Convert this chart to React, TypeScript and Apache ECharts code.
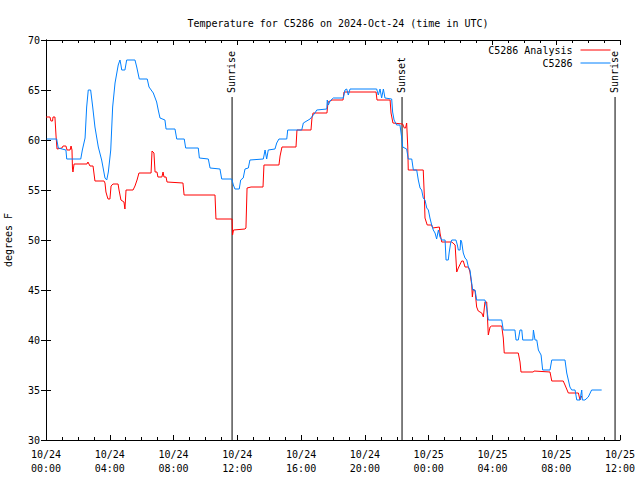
import React, { useEffect, useRef } from "react";
import * as echarts from "echarts";

// hours since 2024-10-24 00:00 UTC, degrees F
const analysisSeries: [number, number][] = [
  [0.0, 62.3], [0.25, 62.3], [0.31, 61.9], [0.41, 61.9], [0.44, 62.3], [0.56, 62.3], [0.63, 60.4], [0.69, 59.1],
  [1.0, 59.2], [1.07, 59.4], [1.25, 59.4], [1.32, 59.0], [1.51, 59.0], [1.57, 59.4], [1.63, 59.0], [1.66, 57.2],
  [1.69, 56.8], [1.76, 57.6], [2.57, 57.6], [2.63, 57.8], [2.76, 57.4], [2.95, 57.4], [3.07, 55.9], [3.64, 55.9],
  [3.7, 55.7], [3.76, 54.8], [3.83, 54.4], [3.89, 54.1], [4.01, 54.1], [4.08, 55.4], [4.2, 55.6], [4.52, 55.6],
  [4.58, 55.0], [4.7, 54.0], [4.89, 53.8], [4.95, 53.1], [5.02, 55.0], [5.46, 55.0], [5.58, 55.4], [5.71, 56.0],
  [5.83, 56.7], [6.59, 56.7], [6.65, 58.9], [6.77, 58.7], [6.84, 56.8], [6.96, 56.8], [7.02, 56.3], [7.27, 56.3],
  [7.34, 56.8], [7.4, 56.3], [7.53, 56.3], [7.59, 55.8], [8.59, 55.7], [8.66, 54.5], [10.6, 54.5], [10.66, 52.1],
  [11.67, 52.1], [11.7, 50.5], [11.76, 51.0], [12.48, 51.1], [12.54, 51.2], [12.61, 55.2], [12.86, 55.3],
  [13.61, 55.3], [13.67, 57.5], [14.61, 57.5], [14.68, 58.4], [14.8, 59.3], [15.68, 59.3], [15.74, 61.0],
  [16.62, 61.0], [16.68, 62.2], [16.75, 62.7], [17.62, 62.7], [17.69, 63.8], [17.94, 64.0], [18.63, 64.0],
  [18.69, 64.8], [20.7, 64.8], [20.76, 64.0], [21.58, 64.0], [21.64, 62.7], [21.76, 61.7], [22.37, 61.6],
  [22.47, 61.2], [22.55, 61.2], [22.62, 61.7], [22.69, 59.3], [22.72, 57.0], [23.66, 57.0], [23.73, 54.3],
  [23.77, 52.2], [23.91, 51.5], [24.19, 51.5], [24.25, 51.2], [24.67, 51.3], [24.71, 50.7], [24.82, 49.8],
  [25.45, 49.8], [25.66, 49.5], [25.76, 46.8], [25.86, 47.2], [26.07, 47.9], [26.17, 47.9], [26.28, 47.3],
  [26.49, 47.3], [26.59, 46.8], [26.7, 45.5], [26.74, 44.3], [26.8, 45.1], [26.91, 44.9], [27.01, 43.3],
  [27.11, 42.9], [27.33, 42.7], [27.43, 42.3], [27.53, 43.8], [27.64, 43.8], [27.74, 40.5], [27.85, 41.3],
  [27.95, 41.4], [28.58, 41.4], [28.68, 40.2], [28.74, 38.7], [29.62, 38.7], [29.73, 37.8], [29.79, 36.8],
  [30.56, 36.8], [30.61, 36.9], [31.61, 36.8], [31.72, 35.9], [32.44, 35.9], [32.55, 35.5], [32.76, 34.7],
  [33.39, 34.7], [33.49, 34.0], [33.6, 34.4],
];

const stationSeries: [number, number][] = [
  [0.04, 60.1], [0.67, 60.1], [0.77, 59.2], [1.25, 59.0], [1.3, 58.1], [2.18, 58.1], [2.28, 59.0], [2.45, 60.2],
  [2.55, 63.3], [2.65, 65.0], [2.8, 65.0], [2.93, 63.3], [3.07, 61.3], [3.28, 59.3], [3.49, 58.0], [3.7, 56.2],
  [3.81, 56.0], [3.91, 56.8], [4.06, 59.0], [4.18, 63.3], [4.33, 65.7], [4.53, 67.5], [4.64, 68.0], [4.7, 67.5],
  [4.75, 67.0], [4.95, 67.0], [5.06, 68.0], [5.58, 68.0], [5.69, 67.3], [5.85, 66.1], [6.35, 66.1], [6.46, 65.3],
  [6.73, 64.7], [6.94, 63.8], [7.04, 63.0], [7.15, 62.2], [7.46, 62.0], [7.53, 61.1], [8.09, 61.1], [8.2, 60.1],
  [8.67, 60.1], [8.76, 59.2], [9.55, 59.2], [9.62, 58.2], [10.18, 58.1], [10.29, 57.2], [10.91, 57.1],
  [11.02, 56.1], [11.65, 56.1], [11.75, 55.5], [11.85, 55.1], [12.12, 55.1], [12.21, 56.0], [12.37, 56.2],
  [12.48, 57.1], [12.69, 57.2], [12.79, 58.0], [13.63, 58.1], [13.74, 59.0], [13.84, 58.1], [13.94, 59.0],
  [14.36, 59.1], [14.47, 59.7], [14.61, 60.1], [15.1, 60.1], [15.16, 61.0], [16.04, 61.0], [16.14, 61.7],
  [16.56, 62.1], [16.87, 62.7], [16.98, 63.0], [17.61, 63.1], [17.64, 64.0], [17.71, 63.5], [17.81, 63.9],
  [18.02, 64.2], [18.65, 64.2], [18.75, 65.0], [18.86, 65.1], [18.96, 64.5], [19.07, 65.1], [20.74, 65.1],
  [20.84, 64.5], [20.95, 65.1], [21.05, 64.2], [21.16, 65.1], [21.26, 64.2], [21.68, 64.1], [21.74, 62.8],
  [21.83, 62.0], [21.99, 61.5], [22.2, 61.5], [22.31, 60.2], [22.37, 59.3], [22.62, 59.1], [22.72, 58.1],
  [22.94, 58.1], [23.04, 57.0], [23.25, 57.0], [23.35, 56.0], [23.46, 55.2], [23.56, 55.0], [23.66, 54.2],
  [23.77, 54.0], [23.88, 53.2], [23.98, 53.0], [24.08, 52.2], [24.19, 51.5], [24.29, 51.0], [24.4, 50.7],
  [24.5, 50.1], [24.61, 51.0], [24.71, 50.3], [24.82, 50.0], [25.03, 50.0], [25.09, 48.0], [25.23, 48.0],
  [25.29, 48.8], [25.38, 49.7], [25.45, 50.0], [25.71, 50.0], [25.8, 49.5], [25.86, 49.0], [25.97, 49.0],
  [26.01, 50.0], [26.07, 49.8], [26.17, 48.7], [26.28, 48.2], [26.39, 48.0], [26.49, 47.3], [26.59, 47.0],
  [26.7, 45.7], [26.76, 45.0], [26.91, 45.0], [27.01, 44.0], [27.53, 44.0], [27.64, 43.2], [27.74, 42.0],
  [28.58, 42.0], [28.68, 41.0], [29.41, 41.0], [29.48, 40.0], [29.62, 40.0], [29.73, 41.0], [29.84, 41.0],
  [29.9, 40.0], [30.53, 40.0], [30.57, 41.0], [30.67, 40.0], [30.78, 40.0], [30.88, 39.0], [31.05, 38.5],
  [31.15, 37.0], [31.61, 37.0], [31.72, 38.0], [32.55, 38.0], [32.66, 36.7], [32.76, 36.0], [32.86, 35.3],
  [32.97, 35.0], [33.18, 35.0], [33.29, 34.0], [33.49, 34.0], [33.6, 35.0], [33.64, 34.0], [33.8, 34.0],
  [34.01, 34.3], [34.22, 35.0], [34.85, 35.0],
];

const eventHours = [11.67, 22.33, 35.69];
const eventNames = ["Sunrise", "Sunset", "Sunrise"];
const eventTopValue = 64.3;

const seriesNames = ["C5286 Analysis", "C5286"];
const seriesColors = ["#ff0000", "#0080ff"];

const X_MIN = 0;
const X_MAX = 36;
const X_STEP = 4;
const Y_MIN = 30;
const Y_MAX = 70;
const Y_STEP = 5;

const FONT = "DejaVu Sans Mono";

function fmtHour(h: number): string {
  const day = 24 + Math.floor(h / 24);
  const hr = Math.round(h % 24);
  return `10/${day}\n${String(hr).padStart(2, "0")}:00`;
}

export default function App() {
  const ref = useRef<HTMLDivElement>(null);
  useEffect(() => {
    if (!ref.current) return;
    const chart = echarts.init(ref.current, undefined, { renderer: "svg" });
    const axisLine = { show: true, lineStyle: { color: "#000", width: 1 } };
    const xCommon = {
      type: "value" as const,
      min: X_MIN,
      max: X_MAX,
      interval: X_STEP,
      axisLine,
      axisTick: { show: true, inside: true, length: 5, lineStyle: { color: "#000" } },
      minorTick: { show: true, splitNumber: 4, length: 3, lineStyle: { color: "#000" } },
      splitLine: { show: false },
      minorSplitLine: { show: false },
    };
    const yCommon = {
      type: "value" as const,
      min: Y_MIN,
      max: Y_MAX,
      interval: Y_STEP,
      axisLine,
      axisTick: { show: true, inside: true, length: 5, lineStyle: { color: "#000" } },
      splitLine: { show: false },
    };
    chart.setOption({
      animation: false,
      backgroundColor: "#fff",
      title: {
        text: "Temperature for C5286 on 2024-Oct-24 (time in UTC)",
        left: 333,
        top: 13,
        textAlign: "center",
        textStyle: { fontFamily: FONT, fontSize: 10, fontWeight: "normal", color: "#000" },
      },
      grid: { left: 46, right: 20, top: 40, bottom: 40, containLabel: false, outerBoundsMode: "none" },
      legend: {
        data: seriesNames,
        orient: "vertical",
        right: 29,
        top: 45,
        align: "right",
        itemWidth: 30,
        itemHeight: 10,
        itemGap: 3,
        padding: 0,
        itemStyle: { opacity: 0 },
        lineStyle: { width: 1 },
        textStyle: { fontFamily: FONT, fontSize: 10, color: "#000", padding: [0, 3, 0, 0] },
      },
      xAxis: [
        {
          ...xCommon,
          position: "bottom",
          axisLabel: {
            show: true,
            margin: 7,
            fontFamily: FONT,
            fontSize: 10,
            color: "#000",
            lineHeight: 14,
            formatter: (v: number) => fmtHour(v),
          },
        },
        { ...xCommon, position: "top", axisLabel: { show: false } },
      ],
      yAxis: [
        {
          ...yCommon,
          position: "left",
          name: "degrees F",
          nameLocation: "middle",
          nameGap: 33,
          nameTextStyle: { fontFamily: FONT, fontSize: 10, color: "#000" },
          axisLabel: { show: true, margin: 6, fontFamily: FONT, fontSize: 10, color: "#000" },
        },
        { ...yCommon, position: "right", axisLabel: { show: false } },
      ],
      series: [
        {
          type: "custom",
          name: "events",
          xAxisIndex: 0,
          yAxisIndex: 0,
          silent: true,
          data: eventHours.map((h) => [h]),
          encode: { x: 0 },
          renderItem: (params: any, api: any) => {
            const h = api.value(0);
            const b = api.coord([h, Y_MIN]);
            const t = api.coord([h, eventTopValue]);
            return {
              type: "group",
              children: [
                {
                  type: "line",
                  shape: { x1: b[0], y1: b[1], x2: t[0], y2: t[1] },
                  style: { stroke: "#000", lineWidth: 1 },
                },
                {
                  type: "text",
                  x: t[0] - 1,
                  y: t[1] - 4,
                  rotation: Math.PI / 2,
                  style: {
                    text: eventNames[params.dataIndex],
                    fontFamily: FONT,
                    fontSize: 10,
                    fill: "#000",
                    align: "left",
                    verticalAlign: "middle",
                  },
                },
              ],
            };
          },
        },
        {
          type: "line",
          name: seriesNames[0],
          data: analysisSeries,
          symbol: "none",
          lineStyle: { color: seriesColors[0], width: 1 },
          itemStyle: { color: seriesColors[0] },
        },
        {
          type: "line",
          name: seriesNames[1],
          data: stationSeries,
          symbol: "none",
          lineStyle: { color: seriesColors[1], width: 1 },
          itemStyle: { color: seriesColors[1] },
        },
      ],
    });
    return () => chart.dispose();
  }, []);
  return <div ref={ref} style={{ width: 640, height: 480, position: "absolute", left: 0, top: 0 }} />;
}
